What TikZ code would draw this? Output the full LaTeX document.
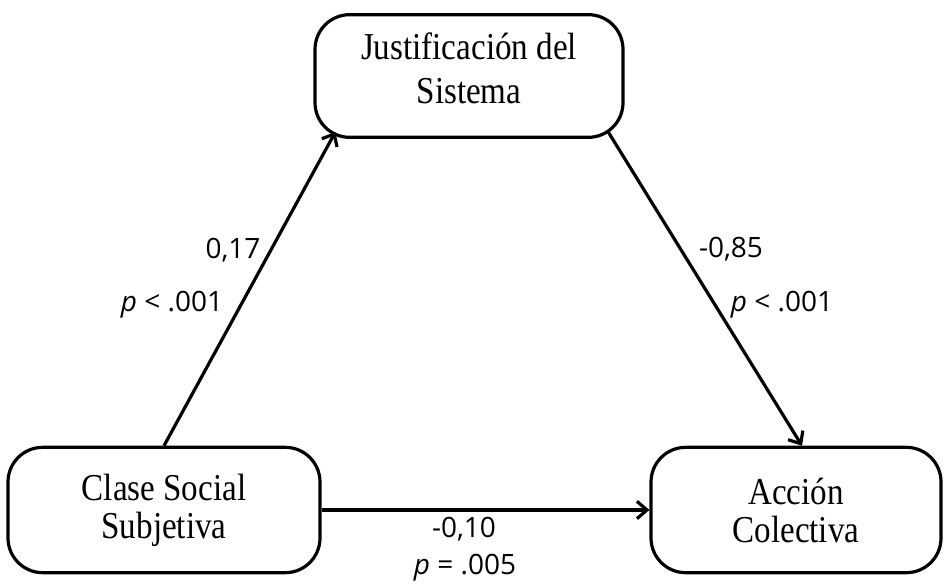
\documentclass[tikz,border=0pt]{standalone}
\usepackage{fontspec}
\setmainfont{Liberation Serif}[FakeStretch=0.87]
\newfontfamily\labelfont{Open Sans}
\usetikzlibrary{arrows.meta,calc}

\tikzset{
  var/.style={draw, line width=2.4pt, rounded corners=26pt, align=center,
    font=\fontsize{28.5}{28.5}\selectfont, inner sep=0pt, minimum height=94pt},
  link/.style={line width=2.4pt, -{Straight Barb[length=7.5pt,width=13pt]}},
  coef/.style={font=\labelfont\fontsize{21}{25}\selectfont, anchor=base, inner sep=0pt}
}

\begin{document}
\begin{tikzpicture}[x=0.75pt,y=-0.75pt]
\useasboundingbox (0,0) rectangle (945,585);

\node[var, minimum width=231pt, minimum height=92pt,
  font=\fontsize{28.5}{33}\selectfont] (sistema) at (469,76) {Justificación del\\Sistema\rule[-12pt]{0pt}{12pt}};
\node[var, minimum width=234pt] (clase) at (164,510) {Clase Social\\Subjetiva};
\node[var, minimum width=217.5pt] (accion) at (796,510) {Acción\\Colectiva};

\draw[link] (clase.north) -- ($(sistema.south west)+(22,-7)$);
\draw[link] ($(sistema.south east)+(-17,-8)$) -- ($(accion.north)+(6,0)$);
\draw[link] (clase.east) -- (accion.west);

\node[coef] (b1) at (233,258) {0,17};
\node[coef] (p1) at (172,311) {\textit{p} < .001};
\node[coef] (b2) at (731,257) {-0,85};
\node[coef] (p2) at (782,311) {\textit{p} < .001};
\node[coef] (b3) at (464,537) {-0,10};
\node[coef] (p3) at (465,574) {\textit{p} = .005};
\end{tikzpicture}
\end{document}
